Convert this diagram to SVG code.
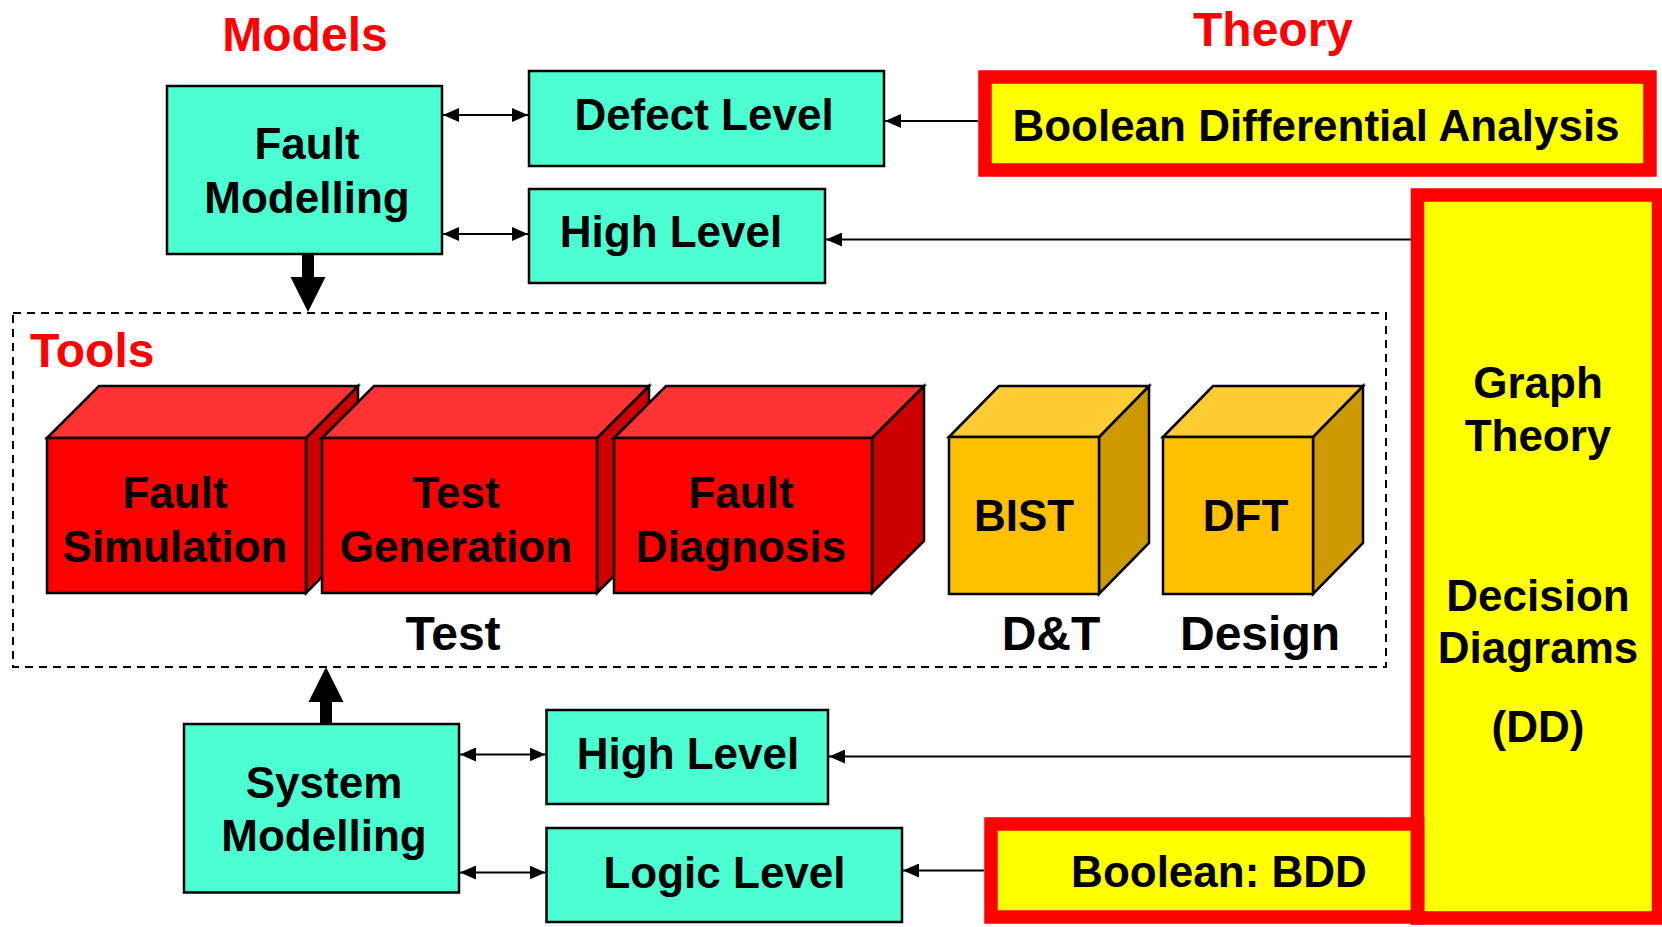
<svg xmlns="http://www.w3.org/2000/svg" width="1662" height="927" viewBox="0 0 1662 927">
  <defs>
    <style>
      .box { fill: #4CFFD2; stroke: #000; stroke-width: 2.5; }
      .frame { fill: #FFFF00; stroke: #FF0000; stroke-width: 13.5; }
      .lbl { font-family: "Liberation Sans", Arial, sans-serif; font-weight: bold; font-size: 44px; fill: #000; text-anchor: middle; }
      .cap { font-size: 48px; }
      .title { font-family: "Liberation Sans", Arial, sans-serif; font-weight: bold; font-size: 48px; fill: #FF0000; }
      .edge { stroke: #000; stroke-width: 2; fill: none; }
      .cube { stroke: #000; stroke-width: 2.5; stroke-linejoin: miter; }
      .rf { fill: #FF0000; } .rt { fill: #FF3333; } .rs { fill: #CC0000; }
      .yf { fill: #FFC000; } .yt { fill: #FFCD33; } .ys { fill: #CC9A00; }
    </style>
    <marker id="ah" markerWidth="16" markerHeight="14" refX="16" refY="7" orient="auto-start-reverse" markerUnits="userSpaceOnUse">
      <path d="M0,0 L16,7 L0,14 Z" fill="#000"/>
    </marker>
  </defs>

  <rect width="1662" height="927" fill="#fff"/>

  <!-- section titles -->
  <text class="title" x="305" y="51" text-anchor="middle">Models</text>
  <text class="title" x="1273" y="46" text-anchor="middle">Theory</text>

  <!-- tools frame -->
  <g id="tools">
    <rect x="13" y="313" width="1373" height="354" fill="none" stroke="#000" stroke-width="2" stroke-dasharray="8 6"/>
    <text class="title" x="30" y="367">Tools</text>
  </g>

  <!-- theory sources -->
  <g id="dd">
    <rect class="frame" x="1417.5" y="195" width="241" height="723"/>
    <text class="lbl" x="1538" y="398">Graph</text>
    <text class="lbl" x="1538" y="451">Theory</text>
    <text class="lbl" x="1538" y="611">Decision</text>
    <text class="lbl" x="1538" y="663">Diagrams</text>
    <text class="lbl" x="1538" y="742">(DD)</text>
  </g>
  <g id="bda">
    <rect class="frame" x="985" y="77" width="665" height="93"/>
    <text class="lbl" x="1316" y="141">Boolean Differential Analysis</text>
  </g>
  <g id="bdd">
    <rect class="frame" x="991" y="824" width="426.5" height="93"/>
    <text class="lbl" x="1219" y="887">Boolean: BDD</text>
  </g>
  <!-- left border of the DD frame over the BDD frame -->
  <line x1="1417.5" y1="817" x2="1417.5" y2="924.5" stroke="#FF0000" stroke-width="13.5"/>

  <!-- model boxes -->
  <g id="fault-modelling">
    <rect class="box" x="167" y="86" width="275" height="168"/>
    <text class="lbl" x="307" y="159">Fault</text>
    <text class="lbl" x="307" y="213">Modelling</text>
  </g>
  <g id="defect-level">
    <rect class="box" x="529" y="71" width="355" height="95"/>
    <text class="lbl" x="704" y="130">Defect Level</text>
  </g>
  <g id="high-level-top">
    <rect class="box" x="529" y="189" width="296" height="94"/>
    <text class="lbl" x="671" y="247">High Level</text>
  </g>
  <g id="system-modelling">
    <rect class="box" x="184" y="724" width="275" height="168.5"/>
    <text class="lbl" x="324" y="798">System</text>
    <text class="lbl" x="324" y="851">Modelling</text>
  </g>
  <g id="high-level-bottom">
    <rect class="box" x="546.5" y="710" width="281.5" height="94"/>
    <text class="lbl" x="688" y="769">High Level</text>
  </g>
  <g id="logic-level">
    <rect class="box" x="546.5" y="828" width="355.5" height="94"/>
    <text class="lbl" x="724.5" y="888">Logic Level</text>
  </g>

  <!-- tool cubes -->
  <g id="fault-simulation">
    <polygon class="cube rs" points="306,438 358,386 358,541 306,593"/>
    <polygon class="cube rt" points="47,438 99,386 358,386 306,438"/>
    <rect class="cube rf" x="47" y="438" width="259" height="155"/>
    <text class="lbl" x="175" y="508">Fault</text>
    <text class="lbl" x="175" y="562">Simulation</text>
  </g>
  <g id="test-generation">
    <polygon class="cube rs" points="597,438 649,386 649,541 597,593"/>
    <polygon class="cube rt" points="322,438 374,386 649,386 597,438"/>
    <rect class="cube rf" x="322" y="438" width="275" height="155"/>
    <text class="lbl" x="456" y="508">Test</text>
    <text class="lbl" x="456" y="562">Generation</text>
  </g>
  <g id="fault-diagnosis">
    <polygon class="cube rs" points="872,438 924,386 924,541 872,593"/>
    <polygon class="cube rt" points="614,438 666,386 924,386 872,438"/>
    <rect class="cube rf" x="614" y="438" width="258" height="155"/>
    <text class="lbl" x="741" y="508">Fault</text>
    <text class="lbl" x="741" y="562">Diagnosis</text>
  </g>
  <g id="bist">
    <polygon class="cube ys" points="1099,437 1149,386 1149,543 1099,594"/>
    <polygon class="cube yt" points="949,437 999,386 1149,386 1099,437"/>
    <rect class="cube yf" x="949" y="437" width="150" height="157"/>
    <text class="lbl" x="1024" y="531">BIST</text>
  </g>
  <g id="dft">
    <polygon class="cube ys" points="1313,437 1363,386 1363,543 1313,594"/>
    <polygon class="cube yt" points="1163,437 1213,386 1363,386 1313,437"/>
    <rect class="cube yf" x="1163" y="437" width="150" height="157"/>
    <text class="lbl" x="1245.5" y="531">DFT</text>
  </g>

  <!-- group captions -->
  <text class="lbl cap" x="453" y="650">Test</text>
  <text class="lbl cap" x="1051" y="650">D&amp;T</text>
  <text class="lbl cap" x="1260" y="650">Design</text>

  <!-- connectors -->
  <g id="connectors">
    <line class="edge" x1="443" y1="115" x2="528" y2="115" marker-start="url(#ah)" marker-end="url(#ah)"/>
    <line class="edge" x1="443" y1="234" x2="528" y2="234" marker-start="url(#ah)" marker-end="url(#ah)"/>
    <line class="edge" x1="460" y1="754.5" x2="545.5" y2="754.5" marker-start="url(#ah)" marker-end="url(#ah)"/>
    <line class="edge" x1="460" y1="872.5" x2="545.5" y2="872.5" marker-start="url(#ah)" marker-end="url(#ah)"/>
    <line class="edge" x1="978" y1="121" x2="885" y2="121" marker-end="url(#ah)"/>
    <line class="edge" x1="1411" y1="239.5" x2="826" y2="239.5" marker-end="url(#ah)"/>
    <line class="edge" x1="1411" y1="756.5" x2="829" y2="756.5" marker-end="url(#ah)"/>
    <line class="edge" x1="984" y1="870.5" x2="903" y2="870.5" marker-end="url(#ah)"/>
    <polygon points="302,255 314,255 314,277 325.5,277 308,312 290.5,277 302,277" fill="#000"/>
    <polygon points="320,723 332,723 332,702 343.5,702 326,667 308.5,702 320,702" fill="#000"/>
  </g>
</svg>
